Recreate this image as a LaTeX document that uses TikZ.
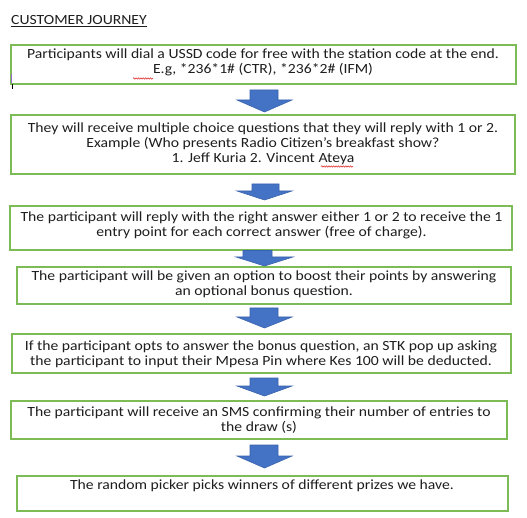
\documentclass[tikz,border=0pt]{standalone}
\usepackage{fontspec}
\setmainfont{Carlito}[FakeStretch=1.12]
\usetikzlibrary{decorations.pathmorphing}
\definecolor{boxgreen}{HTML}{7DBB57}
\definecolor{arrowblue}{HTML}{4472C4}
\definecolor{arrowedge}{HTML}{3A63AE}
\definecolor{textgray}{HTML}{1E1E1E}
\definecolor{squiggle}{HTML}{E02020}
\definecolor{cursorpurple}{HTML}{9B6BD0}
\tikzset{
  stepbox/.style={draw=boxgreen, line width=1.6pt, fill=white, inner sep=0pt},
  steptext/.style={align=center, inner sep=0pt, anchor=base, text=textgray,
    font=\fontsize{14}{15}\selectfont},
  blockarrow/.style={fill=arrowblue, draw=arrowedge, line width=0.6pt, line join=miter},
  spell/.style={draw=squiggle, line width=0.5pt, decorate,
    decoration={snake, amplitude=0.7pt, segment length=2.4pt}},
}
\newcommand{\downarrowblock}[7]{% shaft left, shaft right, head left, head right, top, head start, tip
  \path[blockarrow] (#1,#5) -- (#2,#5) -- (#2,#6) -- (#4,#6) -- ({(#3+#4)/2},#7) -- (#3,#6) -- (#1,#6) -- cycle;}
\begin{document}
\begin{tikzpicture}[x=1pt,y=-1pt]
\useasboundingbox[fill=white] (0,0) rectangle (527,518);

% title
\node[anchor=base west, inner sep=0pt, text=textgray, font=\fontsize{14}{15}\selectfont] (title) at (11,25) {CUSTOMER JOURNEY};
\draw[textgray, line width=0.7pt] ([yshift=-1.6pt]title.base west) -- ([yshift=-1.6pt]title.base east);

% boxes
\node[stepbox, minimum width=505, minimum height=39] (b1) at (263.5,64.5) {};
\node[stepbox, minimum width=504, minimum height=59] (b2) at (263,144.5) {};
\node[stepbox, minimum width=502, minimum height=44] (b3) at (261,228) {};
\node[stepbox, minimum width=494, minimum height=37] (b4) at (264,285.5) {};
\node[stepbox, minimum width=499, minimum height=39] (b5) at (261.5,353.5) {};
\node[stepbox, minimum width=496, minimum height=38] (b6) at (259,420) {};
\node[stepbox, minimum width=491, minimum height=35] (b7) at (262.5,493.5) {};

% cursor marks
\draw[cursorpurple, line width=1pt] (11.5,74) -- (11.5,83);
\draw[black, line width=0.8pt] (12,84) -- (12,89);

% texts (anchor = baseline of last line)
\node[steptext] (t1) at (263,74) {Participants will dial a USSD code for free with the station code at the end.\\E.g, *236*1\# (CTR), *236*2\# (IFM)};
\node[steptext] (t2) at (263,163) {They will receive multiple choice questions that they will reply with 1 or 2.\\Example (Who presents Radio Citizen’s breakfast show?\\1. Jeff Kuria 2. Vincent Ateya};
\node[steptext] (t3) at (261.5,237) {The participant will reply with the right answer either 1 or 2 to receive the 1\\entry point for each correct answer (free of charge).};
\node[steptext] (t4) at (264,296) {The participant will be given an option to boost their points by answering\\an optional bonus question.};
\node[steptext] (t5) at (261,365) {If the participant opts to answer the bonus question, an STK pop up asking\\the participant to input their Mpesa Pin where Kes 100 will be deducted.};
\node[steptext] (t6) at (259,431) {The participant will receive an SMS confirming their number of entries to\\the draw (s)};
\node[steptext] (t7) at (262,489) {The random picker picks winners of different prizes we have.};

% spell-check squiggles
\draw[spell] (133,78.5) -- (153,78.5);
\draw[spell] (321,166.5) -- (353,166.5);

% block arrows
\downarrowblock{250}{278}{237}{292}{90}{100}{112}
\downarrowblock{252}{279}{237}{292}{184}{191}{200}
\downarrowblock{243}{272}{236}{293}{250.5}{257}{266}
\downarrowblock{250}{278}{237}{292}{308}{317}{328}
\downarrowblock{250}{278}{237}{292}{378}{386}{396}
\downarrowblock{250}{278}{237}{292}{445}{456}{468}
\end{tikzpicture}
\end{document}
